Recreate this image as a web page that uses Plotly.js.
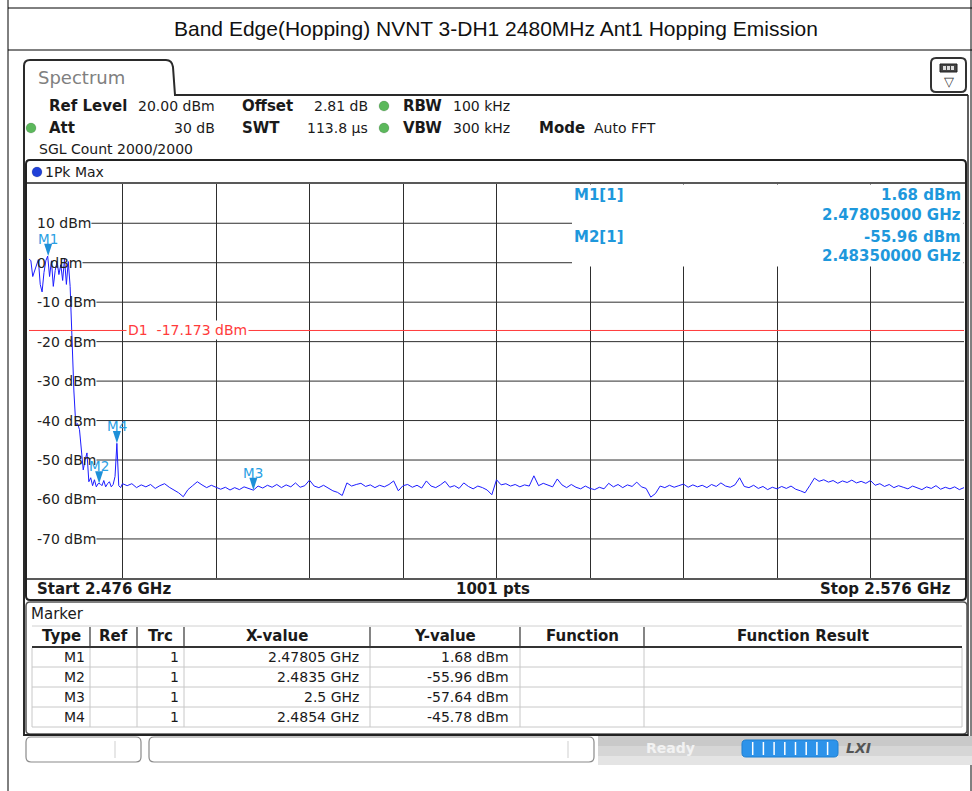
<!DOCTYPE html>
<html><head><meta charset="utf-8">
<script src="https://cdn.plot.ly/plotly-3.0.1.min.js"></script>
<style>html,body{margin:0;padding:0;background:#fff;}#chart{width:972px;height:791px;}</style>
</head><body><div id="chart"></div>
<script>
// ---------------- data ----------------
const chartTitle = 'Band Edge(Hopping) NVNT 3-DH1 2480MHz Ant1 Hopping Emission';
const startGHz = 2.476, stopGHz = 2.576, sweepPoints = 1001;
const refLevel = 20, bottomLevel = -80;
const yTickVals = [10, 0, -10, -20, -30, -40, -50, -60, -70];
const xGridStepGHz = 0.01;
const d1Level = -17.173;

// trace, in-band part (0.2 MHz sampling)
const segAStartGHz = 2.476, segAStepGHz = 0.0002;
const segALevels = [1.0, 0.5, -3.5, -2.0, -1.0, 0.8, -5.5, -7.4, -2.5, 0.5,
  1.68, -3.5, 0.5, -6.0, -2.0, 0.3, -3.0, -0.5, -4.5, 1.0,
  -5.5, 0.3, -6.0, -20.5, -32.5, -41.0, -40.8, -42.3, -47.5, -52.5,
  -50.0, -48.2, -55.5, -54.5, -56.5, -55.0, -56.8, -55.96, -56.0, -56.5,
  -55.2, -56.8, -56.0, -55.5, -56.8, -56.2, -54.2, -45.78, -56.5, -57.0, -56.0];
// trace, out-of-band noise floor (0.5 MHz sampling)
const segBStartGHz = 2.4865, segBStepGHz = 0.0005;
const segBLevels = [
  -56.5, -56.0, -57.0, -56.3, -56.8, -56.2, -57.2, -56.5, -56.0, -56.9,
  -57.5, -58.3, -59.3, -57.5, -56.5, -55.5, -56.3, -57.0, -56.4, -56.8,
  -57.4, -56.9, -57.6, -57.0, -57.5, -56.8, -57.3, -57.64, -56.6, -57.1,
  -56.4, -56.9, -56.2, -57.0, -56.3, -56.8, -55.8, -56.9, -56.5, -55.1,
  -56.6, -57.0, -56.4, -57.2, -57.8, -58.2, -59.0, -55.8, -56.6, -56.2,
  -55.9, -56.7, -56.3, -57.0, -56.4, -56.8, -56.2, -55.3, -57.8, -56.5,
  -56.2, -56.9, -56.4, -57.1, -55.3, -56.6, -57.0, -56.3, -55.4, -56.9,
  -56.5, -57.2, -55.8, -56.7, -57.3, -56.6, -57.0, -57.6, -58.8, -55.0,
  -56.3, -56.0, -56.6, -56.2, -56.8, -56.3, -56.6, -54.0, -56.5, -55.9,
  -56.4, -56.8, -54.8, -56.3, -57.0, -56.2, -56.9, -57.3, -56.6, -57.2,
  -57.5, -56.9, -57.3, -55.9, -56.8, -56.2, -57.0, -56.3, -56.7, -55.6,
  -56.8, -57.2, -59.4, -58.5, -56.6, -57.0, -56.4, -56.9, -56.5, -56.1,
  -56.9, -56.3, -56.8, -56.4, -57.0, -56.2, -56.7, -55.8, -56.6, -56.9,
  -56.3, -54.5, -56.7, -57.0, -56.4, -57.2, -56.7, -57.5, -56.9, -57.3,
  -56.7, -57.2, -56.6, -57.4, -57.8, -58.3, -56.5, -54.6, -55.4, -55.0,
  -55.6, -55.2, -55.9, -55.3, -55.7, -55.1, -55.8, -55.4, -55.9, -55.2,
  -56.4, -56.0, -56.7, -56.2, -57.0, -56.5, -56.9, -57.3, -56.6, -57.1,
  -57.5, -56.8, -57.2, -56.5, -57.4, -56.9, -57.3, -56.8, -57.5, -57.0];

const markerNames = ['M1', 'M2', 'M3', 'M4'];
const markerFreqGHz = [2.47805, 2.4835, 2.5, 2.4854];
const markerLevels = [1.68, -55.96, -57.64, -45.78];
const markerTrace = [1, 1, 1, 1];

const tableHeaders = ['Type', 'Ref', 'Trc', 'X-value', 'Y-value', 'Function', 'Function Result'];

// ---------------- build ----------------
const W = 972, H = 791;
const X = p => p / W, Y = p => 1 - p / H;
const FONT = 'DejaVu Sans';
const BLUE_M = '#1e98dc';

const freqs = [], levels = [];
segALevels.forEach((v, i) => { freqs.push(+(segAStartGHz + i * segAStepGHz).toFixed(5)); levels.push(v); });
segBLevels.forEach((v, i) => { freqs.push(+(segBStartGHz + i * segBStepGHz).toFixed(5)); levels.push(v); });

const shapes = [], ann = [];
function line(x0, y0, x1, y1, color, width, layer) {
  shapes.push({type: 'line', xref: 'paper', yref: 'paper', x0: X(x0), y0: Y(y0), x1: X(x1), y1: Y(y1),
    line: {color: color, width: width}, layer: layer || 'above'});
}
function rect(x0, y0, x1, y1, fill, lc, lw, layer) {
  shapes.push({type: 'rect', xref: 'paper', yref: 'paper', x0: X(x0), y0: Y(y0), x1: X(x1), y1: Y(y1),
    fillcolor: fill, line: {color: lc || 'rgba(0,0,0,0)', width: lw || 0}, layer: layer || 'above'});
}
function circle(cx, cy, r, fill) {
  shapes.push({type: 'circle', xref: 'paper', yref: 'paper', x0: X(cx - r), y0: Y(cy + r), x1: X(cx + r), y1: Y(cy - r),
    fillcolor: fill, line: {color: 'rgba(0,0,0,0.25)', width: 0.5}, layer: 'above'});
}
const P = (x, y) => X(x).toFixed(5) + ',' + Y(y).toFixed(5);
function rrect(x0, y0, x1, y1, r, lc, lw, fill) {
  const d = 'M' + P(x0 + r, y0) + 'L' + P(x1 - r, y0) + 'Q' + P(x1, y0) + ' ' + P(x1, y0 + r) +
    'L' + P(x1, y1 - r) + 'Q' + P(x1, y1) + ' ' + P(x1 - r, y1) + 'L' + P(x0 + r, y1) +
    'Q' + P(x0, y1) + ' ' + P(x0, y1 - r) + 'L' + P(x0, y0 + r) + 'Q' + P(x0, y0) + ' ' + P(x0 + r, y0) + 'Z';
  shapes.push({type: 'path', xref: 'paper', yref: 'paper', path: d, line: {color: lc, width: lw},
    fillcolor: fill || 'rgba(0,0,0,0)', layer: 'above'});
}
function txt(text, x, y, o) {
  o = o || {};
  ann.push({text: text, x: X(x), y: Y(y), xref: 'paper', yref: 'paper', showarrow: false,
    xanchor: o.anchor || 'left', yanchor: 'middle', borderpad: 0,
    font: {family: o.family || FONT, size: o.size || 14, color: o.color || '#1a1a1a'}});
}

// outer frame and title
line(8, 8, 972, 8, '#000', 1);
line(8, 50, 972, 50, '#000', 1);
line(8, 0, 8, 791, '#000', 1);
line(971, 0, 971, 791, '#000', 1);
txt(chartTitle, 496, 29, {anchor: 'center', family: 'Liberation Sans', size: 21, color: '#111'});

// spectrum tab & panel
shapes.push({type: 'path', xref: 'paper', yref: 'paper',
  path: 'M' + P(24, 736) + 'L' + P(24, 66) + 'Q' + P(24, 60) + ' ' + P(30, 60) + 'L' + P(166, 60) +
        'Q' + P(172, 60) + ' ' + P(173, 67) + 'L' + P(175, 95) + 'L' + P(968, 95),
  line: {color: '#2a2a2a', width: 2}, layer: 'above'});
line(968, 95, 968, 736, '#2a2a2a', 1.5);
txt('Spectrum', 37, 77, {size: 18, color: '#808080'});
rrect(931, 58, 966, 92, 5, '#333', 2, '#fff');
rect(940, 64, 957, 72, '#444', '#222', 1);
rect(943, 66, 946, 70, '#ddd'); rect(947, 66, 950, 70, '#ddd'); rect(951, 66, 954, 70, '#ddd');
txt('\u25BD', 948.5, 82, {anchor: 'center', size: 13, color: '#333'});

// setting rows
const B = s => '<b>' + s + '</b>';
txt(B('Ref Level'), 48, 106, {size: 15});
txt('20.00 dBm', 216, 106, {anchor: 'right'});
txt(B('Offset'), 241, 106, {size: 15});
txt('2.81 dB', 369, 106, {anchor: 'right'});
circle(384, 106, 5, '#5cb85c');
txt(B('RBW'), 402, 106, {size: 15});
txt('100 kHz', 452, 106);
circle(31, 128, 5, '#5cb85c');
txt(B('Att'), 48, 128, {size: 15});
txt('30 dB', 216, 128, {anchor: 'right'});
txt(B('SWT'), 241, 128, {size: 15});
txt('113.8 \u00b5s', 369, 128, {anchor: 'right'});
circle(384, 128, 5, '#5cb85c');
txt(B('VBW'), 402, 128, {size: 15});
txt('300 kHz', 452, 128);
txt(B('Mode'), 538, 128, {size: 15});
txt('Auto FFT', 593, 128);
txt('SGL Count 2000/2000', 38, 149);

// graph panel
rrect(26, 160, 966, 600, 4, '#222', 2);
line(26, 183, 966, 183, '#222', 1.5);
line(26, 579, 966, 579, '#222', 1.5);
circle(37, 172, 5, '#2040d8');
txt('1Pk Max', 44, 172);

// horizontal grid lines (start after their labels)
const cv = document.createElement('canvas').getContext('2d');
cv.font = '14px "' + FONT + '"';
const plotL = 29, plotR = 964, plotT = 183.8, plotB = 578.4;
yTickVals.forEach(v => {
  const label = v + ' dBm';
  const wdt = cv.measureText(label).width;
  shapes.push({type: 'line', xref: 'paper', yref: 'y', x0: X(36 + wdt + 1), x1: X(plotR), y0: v, y1: v,
    line: {color: '#2e2e2e', width: 1}, layer: 'below'});
  ann.push({text: label, x: X(36), y: v, xref: 'paper', yref: 'y', showarrow: false, xanchor: 'left',
    yanchor: 'middle', borderpad: 0, font: {family: FONT, size: 14, color: '#222'}});
});

// marker info box (covers grid)
rect(572, 184.5, 963.5, 266.5, '#fff', null, 0, 'above');
const mi = (s) => '<b>' + s + '</b>';
txt(mi(markerNames[0] + '[' + markerTrace[0] + ']'), 573, 195, {size: 15, color: BLUE_M});
txt(mi(markerLevels[0].toFixed(2) + ' dBm'), 962, 195, {anchor: 'right', size: 15, color: BLUE_M});
txt(mi(markerFreqGHz[0].toFixed(8) + ' GHz'), 962, 215, {anchor: 'right', size: 15, color: BLUE_M});
txt(mi(markerNames[1] + '[' + markerTrace[1] + ']'), 573, 237, {size: 15, color: BLUE_M});
txt(mi(markerLevels[1].toFixed(2) + ' dBm'), 962, 237, {anchor: 'right', size: 15, color: BLUE_M});
txt(mi(markerFreqGHz[1].toFixed(8) + ' GHz'), 962, 256, {anchor: 'right', size: 15, color: BLUE_M});

// D1 display line
shapes.push({type: 'line', xref: 'paper', yref: 'y', x0: X(plotL), x1: X(plotR), y0: d1Level, y1: d1Level,
  line: {color: '#ff3b3b', width: 1}, layer: 'above'});
ann.push({text: 'D1\u00a0\u00a0' + d1Level.toFixed(3) + ' dBm', x: X(126), y: d1Level, xref: 'paper', yref: 'y',
  showarrow: false, xanchor: 'left', yanchor: 'middle', bgcolor: '#fff', borderpad: 1,
  font: {family: FONT, size: 14, color: '#ff3b3b'}});

// marker labels
markerNames.forEach((m, i) => {
  ann.push({text: m, x: markerFreqGHz[i], y: markerLevels[i], xref: 'x', yref: 'y', showarrow: false,
    xanchor: 'center', yanchor: 'middle', yshift: 17.5, borderpad: 0,
    font: {family: FONT, size: 13.5, color: '#2aa0e4'}});
});

// bottom axis labels
txt(B('Start ' + startGHz + ' GHz'), 36, 589, {size: 15});
txt(B(sweepPoints + ' pts'), 493, 589, {anchor: 'center', size: 15});
txt(B('Stop ' + stopGHz + ' GHz'), 952, 589, {anchor: 'right', size: 15});

// marker table
rrect(26, 602, 967, 734, 4, '#555', 1.5);
line(24, 735, 968, 735, '#222', 2);
txt('Marker', 30, 614, {size: 15});
const colX = [32, 90, 137, 184, 370, 520, 644, 962];
line(32, 626, 962, 626, '#d0d0d0', 1);
line(32, 647, 962, 647, '#333', 2);
for (let r = 1; r <= 4; r++) line(32, 647 + r * 20, 962, 647 + r * 20, '#c8c8c8', 1);
colX.forEach((cx, k) => {
  if (k > 0 && k < colX.length - 1) line(cx, 627, cx, 646, '#333', 1.2);
  line(cx, 648, cx, 727, '#c8c8c8', 1);
});
tableHeaders.forEach((h, k) => txt(B(h), (colX[k] + colX[k + 1]) / 2, 636, {anchor: 'center', size: 15}));
markerNames.forEach((m, i) => {
  const yy = 657 + i * 20;
  txt(m, 86, yy, {anchor: 'right'});
  txt(String(markerTrace[i]), 180, yy, {anchor: 'right'});
  txt(markerFreqGHz[i] + ' GHz', 360, yy, {anchor: 'right'});
  txt(markerLevels[i].toFixed(2) + ' dBm', 510, yy, {anchor: 'right'});
});

// status bar
rect(598, 736, 972, 746, '#c9c9c9', null, 0);
rect(598, 746, 972, 756, '#d6d6d6', null, 0);
rect(598, 756, 972, 765, '#e4e4e4', null, 0);
rrect(26, 737, 141, 762, 5, '#8a8a8a', 1.2, '#fff');
line(115, 741, 115, 758, '#cfcfcf', 1);
rrect(149, 737, 594, 762, 5, '#8a8a8a', 1.2, '#fff');
line(568, 741, 568, 758, '#cfcfcf', 1);
txt(B('Ready'), 645, 748, {color: '#f2f2f2'});
rrect(742, 740, 838, 757, 4, '#1f7fd0', 1, '#2d93ea');
for (let s = 1; s < 9; s++) line(742 + s * 10.7, 742, 742 + s * 10.7, 755, '#ffffff', 1.5);
txt('<b><i>LXI</i></b>', 845, 748, {color: '#555', size: 14});

// ---------------- plot ----------------
const traces = [
  {type: 'scatter', mode: 'lines', x: freqs, y: levels, line: {color: '#1c1cff', width: 1}, hoverinfo: 'skip'},
  {type: 'scatter', mode: 'markers', x: markerFreqGHz, y: markerLevels,
    marker: {symbol: 'arrow', angle: 180, size: 13, color: '#1e90d8', line: {width: 0}}, hoverinfo: 'skip'}
];

const layout = {
  width: W, height: H, margin: {l: 0, r: 0, t: 0, b: 0},
  paper_bgcolor: '#fff', plot_bgcolor: '#fff', showlegend: false,
  xaxis: {domain: [X(plotL), X(plotR)], range: [startGHz, stopGHz], tick0: startGHz, dtick: xGridStepGHz,
    showgrid: true, gridcolor: '#2e2e2e', gridwidth: 1, showticklabels: false, ticks: '', zeroline: false,
    showline: false, fixedrange: true},
  yaxis: {domain: [Y(plotB), Y(plotT)], range: [bottomLevel, refLevel], showgrid: false, showticklabels: false,
    ticks: '', zeroline: false, showline: false, fixedrange: true},
  shapes: shapes, annotations: ann
};
Plotly.newPlot('chart', traces, layout, {displayModeBar: false, staticPlot: true});
</script></body></html>
